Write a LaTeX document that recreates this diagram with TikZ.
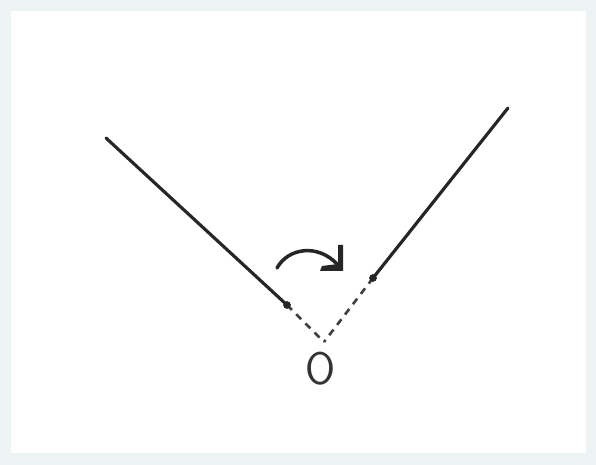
\documentclass[tikz,border=0pt]{standalone}
\begin{document}
\begin{tikzpicture}[x=0.02cm,y=-0.02cm,
  ray/.style={draw=black!85,line width=1.8pt,line cap=round},
  dashline/.style={draw=black!75,line width=1.5pt,dash pattern=on 4pt off 3.4pt},
  endpt/.style={fill=black!85},
  turn/.style={draw=black!85,line width=2pt,line cap=round}]
\definecolor{framecol}{HTML}{EEF4F3}
\fill[framecol] (0,0) rectangle (596,465);
\fill[white] (11,11) rectangle (586,453);
\useasboundingbox (0,0) rectangle (596,465);
\coordinate (A) at (106,138);
\coordinate (B) at (287,305);
\coordinate (C) at (373,278);
\coordinate (D) at (508,108);
\coordinate (V) at (324,342);
\coordinate (S) at (277,268);
\coordinate (T) at (343,271);
\node[font=\fontsize{26}{26}\selectfont\sffamily,xscale=0.95,text=black!80] (O) at (321,369) {O};
\draw[ray] (A) -- (B);
\draw[ray] (C) -- (D);
\draw[dashline] (B) -- (V);
\draw[dashline] (C) -- (V);
\fill[endpt] (B) circle (2.2pt);
\fill[endpt] (C) circle (2.2pt);
\draw[turn] (S) .. controls (288,248) and (318,243) .. (338,265);
\fill[black!85] (T) -- ++(0,-26) -- ++(-5,0) -- ++(0,19) -- ++(-16,2) -- ++(-2,5) -- cycle;
\end{tikzpicture}
\end{document}
